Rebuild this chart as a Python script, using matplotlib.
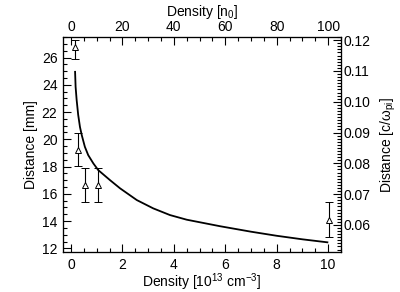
import numpy as np
import matplotlib
matplotlib.use('Agg')
import matplotlib.pyplot as plt
from matplotlib.ticker import MultipleLocator, FormatStrFormatter

plt.rcParams['font.family'] = ['Liberation Sans', 'DejaVu Sans']
plt.rcParams['mathtext.fontset'] = 'custom'
plt.rcParams['mathtext.rm'] = 'Liberation Sans'
plt.rcParams['mathtext.it'] = 'Liberation Sans'

# model curve (density in 1e13 cm^-3, distance in mm)
curve_x = [0.16, 0.18, 0.22, 0.28, 0.35, 0.42, 0.54, 0.67, 0.87, 1.06, 1.52,
           1.91, 2.56, 3.2, 3.85, 4.5, 5.15, 5.8, 7.0, 8.0, 9.0, 9.97]
curve_y = [24.95, 23.85, 22.9, 21.8, 20.9, 20.3, 19.45, 18.84, 18.23, 17.74,
           17.0, 16.4, 15.54, 14.93, 14.44, 14.1, 13.86, 13.62, 13.22, 12.92,
           12.66, 12.44]

# measured points with error bars
meas_x = [0.17, 0.28, 0.56, 1.04, 10.04]
meas_y = [26.78, 19.2, 16.64, 16.64, 14.07]
meas_lo = [25.87, 18.03, 15.42, 15.42, 12.85]
meas_hi = [27.32, 20.43, 17.87, 17.87, 15.37]

fs = 10

fig = plt.figure(figsize=(4.0, 2.92), dpi=100)
ax = fig.add_axes([0.1575, 0.137, 0.695, 0.736])

ax.plot(curve_x, curve_y, color='black', lw=1.3)
yerr = [np.array(meas_y) - np.array(meas_lo), np.array(meas_hi) - np.array(meas_y)]
ax.errorbar(meas_x, meas_y, yerr=yerr, fmt='^', ms=4, mfc='white', mec='black',
            mew=0.7, ecolor='black', elinewidth=0.8, capsize=3, capthick=0.8)

ax.set_xlim(-0.31, 10.5)
ax.set_ylim(11.73, 27.5)
ax.xaxis.set_major_locator(MultipleLocator(2))
ax.xaxis.set_minor_locator(MultipleLocator(0.5))
ax.yaxis.set_major_locator(MultipleLocator(2))
ax.yaxis.set_minor_locator(MultipleLocator(0.5))
ax.tick_params(which='both', direction='in', labelsize=fs, width=0.8)
ax.tick_params(which='major', length=6, pad=4)
ax.tick_params(which='minor', length=3)
ax.set_xlabel('Density [10$^{13}$ cm$^{-3}$]', fontsize=fs, labelpad=0)
ax.set_ylabel('Distance [mm]', fontsize=fs, labelpad=3)

ax_top = ax.twiny()
ax_top.set_xlim(-3.1, 105)
ax_top.xaxis.set_major_locator(MultipleLocator(20))
ax_top.xaxis.set_minor_locator(MultipleLocator(5))
ax_top.tick_params(which='both', direction='in', labelsize=fs, width=0.8)
ax_top.tick_params(which='major', length=6, pad=2)
ax_top.tick_params(which='minor', length=3)
ax_top.set_xlabel('Density [n$_0$]', fontsize=fs, labelpad=3)

ax_right = ax.twinx()
ax_right.set_ylim(0.0512, 0.121)
ax_right.yaxis.set_major_locator(MultipleLocator(0.01))
ax_right.yaxis.set_minor_locator(MultipleLocator(0.001))
ax_right.yaxis.set_major_formatter(FormatStrFormatter('%.2f'))
ax_right.tick_params(which='both', direction='in', labelsize=fs, width=0.8)
ax_right.tick_params(which='major', length=6, pad=2)
ax_right.tick_params(which='minor', length=3)
ax_right.set_ylabel('Distance [c/ω$_{pi}$]', fontsize=fs, labelpad=6)

for a in (ax, ax_top, ax_right):
    for s in a.spines.values():
        s.set_linewidth(0.8)

fig.savefig('out.png', dpi=100)
